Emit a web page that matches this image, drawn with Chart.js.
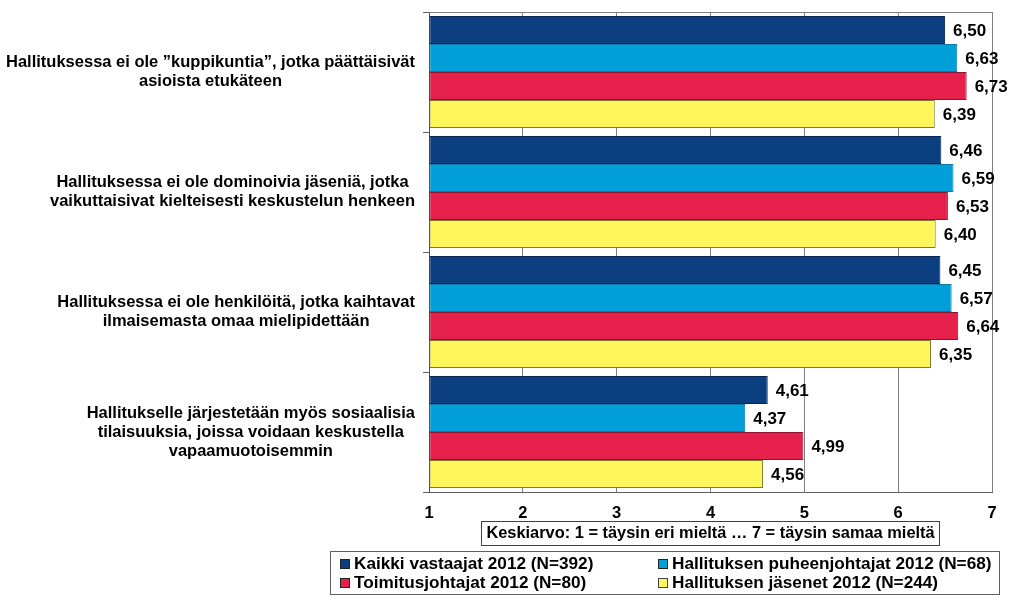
<!DOCTYPE html>
<html lang="fi">
<head>
  <meta charset="UTF-8">
  <title>Hallituksen toiminta</title>
  <script src="https://cdn.jsdelivr.net/npm/chart.js"></script>
  <style>
    body, html {
      margin: 0;
      background: #fff;
      font-family: "Liberation Sans", Arial, sans-serif;
    }
    .wrap {
      position: relative;
      width: 1024px;
      height: 598px;
    }
    .legend-box {
      position: absolute;
      left: 330px;
      top: 551px;
      width: 670px;
      height: 44px;
      border: 1px solid #606060;
      display: grid;
      grid-template-columns: 318px 340px;
      grid-auto-rows: 19px;
      padding: 2px 0 0 9px;
      box-sizing: border-box;
      font-weight: bold;
      font-size: 17.2px;
      color: #000;
    }
    .legend-item {
      display: flex;
      align-items: center;
      white-space: nowrap;
    }
    .legend-item span.mark {
      display: inline-block;
      width: 8px;
      height: 8px;
      border: 1px solid #333;
      margin-right: 4px;
    }
  </style>
</head>
<body>
  <div class="wrap">
    <canvas id="chart"></canvas>
    <div class="legend-box" id="legend"></div>
  </div>

  <script>
    const categories = [
      ['Hallituksessa ei ole \u201dkuppikuntia\u201d, jotka päättäisivät', 'asioista etukäteen'],
      ['Hallituksessa ei ole dominoivia jäseniä, jotka', 'vaikuttaisivat kielteisesti keskustelun henkeen'],
      ['Hallituksessa ei ole henkilöitä, jotka kaihtavat', 'ilmaisemasta omaa mielipidettään'],
      ['Hallitukselle järjestetään myös sosiaalisia', 'tilaisuuksia, joissa voidaan keskustella', 'vapaamuotoisemmin']
    ];
    const seriesNames = [
      'Kaikki vastaajat 2012 (N=392)',
      'Hallituksen puheenjohtajat 2012 (N=68)',
      'Toimitusjohtajat 2012 (N=80)',
      'Hallituksen jäsenet 2012 (N=244)'
    ];
    const kaikki = [6.50, 6.46, 6.45, 4.61];
    const puheenjohtajat = [6.63, 6.59, 6.57, 4.37];
    const toimitusjohtajat = [6.73, 6.53, 6.64, 4.99];
    const jasenet = [6.39, 6.40, 6.35, 4.56];
    const xTicks = [1, 2, 3, 4, 5, 6, 7];
    const axisTitle = 'Keskiarvo: 1 = täysin eri mieltä \u2026 7 = täysin samaa mieltä';

    const fills = ['#0b3f80', '#009fda', '#e5204a', '#fff65c'];
    const edges = ['#0a2650', '#0a7aa8', '#8c1630', '#7d7a30'];
    const legendEdges = ['#222', '#222', '#222', '#444'];
    const FONT = '"Liberation Sans", Arial, sans-serif';

    // y labels: each block right aligned, lines centred inside the block
    const categoryLabels = {
      id: 'categoryLabels',
      afterDraw(chart) {
        const ctx = chart.ctx;
        const scale = chart.scales.y;
        const right = chart.chartArea.left - 14;
        const lh = 19;
        ctx.save();
        ctx.font = 'bold 16.5px ' + FONT;
        ctx.fillStyle = '#000';
        ctx.textAlign = 'center';
        ctx.textBaseline = 'middle';
        categories.forEach((lines, i) => {
          const w = Math.max(...lines.map(l => ctx.measureText(l).width));
          const cx = right - w / 2;
          const cy = scale.getPixelForTick(i);
          const y0 = cy - (lines.length - 1) * lh / 2;
          lines.forEach((l, k) => ctx.fillText(l, cx, y0 + k * lh));
        });
        ctx.restore();
      }
    };

    const valueLabels = {
      id: 'valueLabels',
      afterDatasetsDraw(chart) {
        const ctx = chart.ctx;
        ctx.save();
        ctx.font = 'bold 17px ' + FONT;
        ctx.fillStyle = '#000';
        ctx.textAlign = 'left';
        ctx.textBaseline = 'middle';
        chart.data.datasets.forEach((ds, di) => {
          chart.getDatasetMeta(di).data.forEach((bar, i) => {
            const txt = ds.data[i].toFixed(2).replace('.', ',');
            ctx.fillText(txt, bar.x + 8, bar.y + 1);
          });
        });
        ctx.restore();
      }
    };

    const frame = {
      id: 'frame',
      afterDraw(chart) {
        const ctx = chart.ctx;
        const a = chart.chartArea;
        ctx.save();
        ctx.strokeStyle = '#808080';
        ctx.lineWidth = 1;
        ctx.beginPath();
        ctx.moveTo(a.left, a.top + 0.5);
        ctx.lineTo(a.right, a.top + 0.5);
        ctx.stroke();
        // box round the axis title
        const s = chart.scales.x;
        ctx.font = 'bold 16.4px ' + FONT;
        const w = ctx.measureText(axisTitle).width;
        const cx = (a.left + a.right) / 2;
        const cy = s.bottom - 7 - 9.8;
        ctx.strokeStyle = '#404040';
        ctx.strokeRect(Math.round(cx - w / 2 - 5) + 0.5, Math.round(cy - 12) + 0.5, Math.round(w + 10), 24);
        ctx.restore();
      }
    };

    const datasets = [kaikki, puheenjohtajat, toimitusjohtajat, jasenet].map((vals, i) => ({
      label: seriesNames[i],
      data: vals,
      base: 1,
      backgroundColor: fills[i],
      borderColor: edges[i],
      borderWidth: 1,
      borderSkipped: false,
      categoryPercentage: 0.933,
      barPercentage: 1
    }));

    new Chart(document.getElementById('chart'), {
      type: 'bar',
      data: { labels: categories.map(c => c.join(' ')), datasets: datasets },
      options: {
        indexAxis: 'y',
        responsive: true,
        maintainAspectRatio: false,
        animation: false,
        layout: { padding: { top: 12, right: 32, bottom: 48, left: 0 } },
        plugins: {
          legend: { display: false },
          tooltip: { enabled: false }
        },
        scales: {
          x: {
            min: 1,
            max: 7,
            afterBuildTicks: s => { s.ticks = xTicks.map(v => ({ value: v })); },
            afterFit: s => { s.height = 58; },
            grid: { color: '#7f7f7f', drawTicks: false },
            border: { display: true, color: '#606060' },
            ticks: {
              padding: 12,
              color: '#000',
              font: { family: FONT, size: 16.5, weight: 'bold' }
            },
            title: {
              display: true,
              text: axisTitle,
              color: '#000',
              font: { family: FONT, size: 16.4, weight: 'bold' },
              padding: { top: 4, bottom: 7 }
            }
          },
          y: {
            afterFit: s => { s.width = 429; },
            grid: { display: true, drawOnChartArea: false, drawTicks: true, tickLength: 6, color: '#606060' },
            border: { display: true, color: '#505050' },
            ticks: { display: false }
          }
        }
      },
      plugins: [categoryLabels, valueLabels, frame]
    });

    // legend, two columns like the original
    const legend = document.getElementById('legend');
    [0, 1, 2, 3].forEach(i => {
      const item = document.createElement('div');
      item.className = 'legend-item';
      const mark = document.createElement('span');
      mark.className = 'mark';
      mark.style.background = fills[i];
      mark.style.borderColor = legendEdges[i];
      item.appendChild(mark);
      item.appendChild(document.createTextNode(seriesNames[i]));
      legend.appendChild(item);
    });
  </script>
</body>
</html>
